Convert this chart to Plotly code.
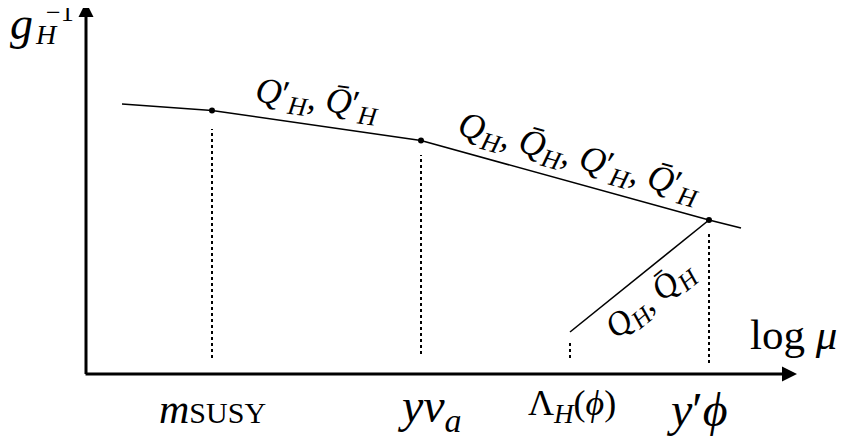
import plotly.graph_objects as go

# ===== data (schematic units: x = log mu, y = g^-1) =====
run_x = [122, 212, 421, 709, 741]
run_y = [335, 328.5, 298.5, 219, 211]

new_x = [570, 709]
new_y = [107, 219]

dot_x = [212, 421, 709]
dot_y = [328.5, 298.5, 219]

drop_x = [212, 421, 570, 709]
drop_top = [310, 284, 99, 206]
drop_bot = [81, 85, 81, 76]

origin = (86, 65)
x_tip = 797
y_tip = 437

SERIF = "Liberation Serif"
PAD = 8  # page margin around the plot div

fig = go.Figure()

fig.add_trace(go.Scatter(x=run_x, y=run_y, mode="lines",
                         line=dict(color="black", width=1.6), hoverinfo="skip"))
fig.add_trace(go.Scatter(x=new_x, y=new_y, mode="lines",
                         line=dict(color="black", width=1.6), hoverinfo="skip"))
for xd, yt, yb in zip(drop_x, drop_top, drop_bot):
    fig.add_trace(go.Scatter(x=[xd, xd], y=[yb, yt], mode="lines",
                             line=dict(color="black", width=2, dash="dot"),
                             hoverinfo="skip"))
fig.add_trace(go.Scatter(x=dot_x, y=dot_y, mode="markers",
                         marker=dict(color="black", size=6), hoverinfo="skip"))

# axes with arrows
fig.add_annotation(x=x_tip, y=origin[1], ax=origin[0] - 2, ay=origin[1],
                   xref="x", yref="y", axref="x", ayref="y", text="",
                   showarrow=True, arrowhead=2, arrowsize=1, arrowwidth=3,
                   arrowcolor="black")
fig.add_annotation(x=origin[0], y=y_tip, ax=origin[0], ay=origin[1] - 1.5,
                   xref="x", yref="y", axref="x", ayref="y", text="",
                   showarrow=True, arrowhead=2, arrowsize=1, arrowwidth=3,
                   arrowcolor="black")


def label(x, y, text, size, angle=0):
    fig.add_annotation(x=x, y=y, xref="x", yref="y", text=text, showarrow=False,
                       textangle=angle, xanchor="center", yanchor="middle",
                       font=dict(family=SERIF, size=size, color="black"))


def sub(t, size):
    return f"<sub><span style='font-size:{size}px'>{t}</span></sub>"


# y axis title g_H^-1
label(21, 416, "<i>g</i>", 46)
label(46, 405, "<i>H</i>", 28)
label(60, 427, "−1", 26)

label(793, 105, "log <i>μ</i>", 43)

# x positions
label(212, 30, "<i>m</i><span style='font-size:30px'>SUSY</span>", 42)
label(429, 30, "<i>yv</i>" + sub("<i>a</i>", 34), 48)
label(572, 33, "Λ" + sub("<i>H</i>", 27) + "(<i>ϕ</i>)", 36)
label(697, 30, "<i>y</i>′<i>ϕ</i>", 48)

# segment labels
QH = "<i>Q</i>" + sub("<i>H</i>", 26)
QbH = "<i>Q̄</i>" + sub("<i>H</i>", 26)
QpH = "<i>Q</i>′" + sub("<i>H</i>", 26)
QbpH = "<i>Q̄</i>′" + sub("<i>H</i>", 26)
label(317, 338, QpH + ", " + QbpH, 36, 8)
label(579, 280, ", ".join([QH, QbH, QpH, QbpH]), 36, 15.5)
label(651, 139, ("<i>Q</i>" + sub("<i>H</i>", 25) + ", <i>Q̄</i>"
                 + sub("<i>H</i>", 25)), 34, -39)

fig.update_layout(
    width=848, height=439,
    margin=dict(l=0, r=0, t=0, b=0),
    paper_bgcolor="white", plot_bgcolor="white",
    showlegend=False,
    xaxis=dict(range=[PAD, 848 + PAD], visible=False, fixedrange=True),
    yaxis=dict(range=[-PAD, 439 - PAD], visible=False, fixedrange=True),
)

fig.write_html("out.html")
